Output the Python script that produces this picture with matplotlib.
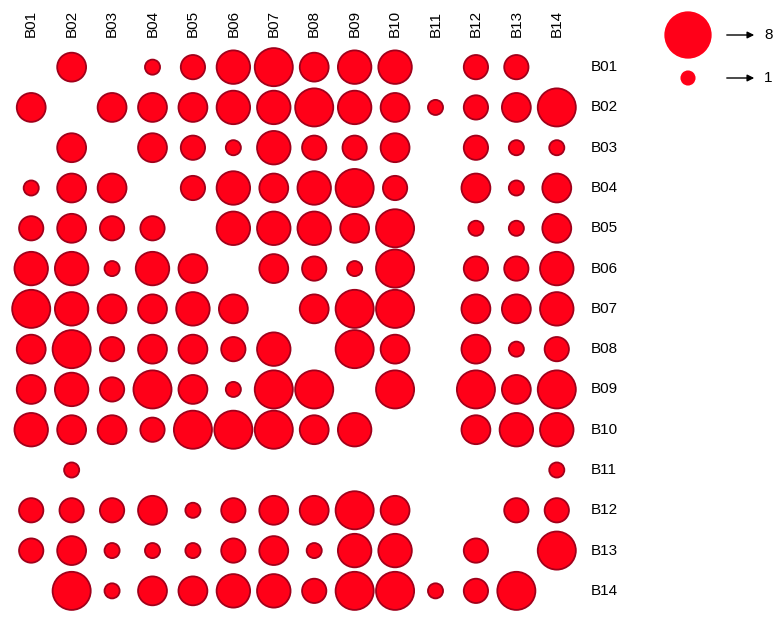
import matplotlib.pyplot as plt
import numpy as np

labels = ['B%02d' % i for i in range(1, 15)]
# rows B01..B14 (top to bottom), columns B01..B14; 0 = no circle
values = np.array([
    [0, 4, 0, 1, 3, 5, 6, 4, 5, 5, 0, 3, 3, 0],
    [4, 0, 4, 4, 4, 5, 5, 6, 5, 4, 1, 3, 4, 6],
    [0, 4, 0, 4, 3, 1, 5, 3, 3, 4, 0, 3, 1, 1],
    [1, 4, 4, 0, 3, 5, 4, 5, 6, 3, 0, 4, 1, 4],
    [3, 4, 3, 3, 0, 5, 5, 5, 4, 6, 0, 1, 1, 4],
    [5, 5, 1, 5, 4, 0, 4, 3, 1, 6, 0, 3, 3, 5],
    [6, 5, 4, 4, 5, 4, 0, 4, 6, 6, 0, 4, 4, 5],
    [4, 6, 3, 4, 4, 3, 5, 0, 6, 4, 0, 4, 1, 3],
    [4, 5, 3, 6, 4, 1, 6, 6, 0, 6, 0, 6, 4, 6],
    [5, 4, 4, 3, 6, 6, 6, 4, 5, 0, 0, 4, 5, 5],
    [0, 1, 0, 0, 0, 0, 0, 0, 0, 0, 0, 0, 0, 1],
    [3, 3, 3, 4, 1, 3, 4, 4, 6, 4, 0, 0, 3, 3],
    [3, 4, 1, 1, 1, 3, 4, 1, 5, 5, 0, 3, 0, 6],
    [0, 6, 1, 4, 4, 5, 5, 3, 6, 6, 1, 3, 6, 0],
])
legend_vals = [8, 1]

def size(v):
    d_px = 10.5 + 4.6 * np.asarray(v, dtype=float)
    return (d_px * 0.72) ** 2

W, H = 779, 625
fig = plt.figure(figsize=(W / 100, H / 100), dpi=100)
ax = fig.add_axes([11 / W, 1 - 611 / H, 566 / W, 564 / H])
ax.set_xlim(-0.5, 13.5)
ax.set_ylim(13.5, -0.5)
ax.axis('off')

rr, cc = np.nonzero(values)
ax.scatter(cc, rr, s=size(values[rr, cc]), c='#ff0018', edgecolors='#a0001a',
           linewidths=1.3, clip_on=False)

for i, lab in enumerate(labels):
    ax.text(i, -0.75, lab, rotation=90, ha='center', va='bottom', fontsize=11,
            family='Liberation Sans', clip_on=False)
    ax.text(13.85, i, lab, ha='left', va='center', fontsize=11,
            family='Liberation Sans', clip_on=False)

# size legend
lax = fig.add_axes([0, 0, 1, 1], facecolor='none')
lax.set_xlim(0, W)
lax.set_ylim(H, 0)
lax.axis('off')
for k, v in enumerate(legend_vals):
    y = 35 + 43 * k
    lax.scatter([688], [y], s=size(v), c='#ff0018', edgecolors='none')
    lax.annotate('', xy=(757, y), xytext=(724, y),
                 arrowprops=dict(arrowstyle='-|>', color='black', lw=1, mutation_scale=10))
    lax.text(764, y, str(v), ha='left', va='center', fontsize=11, family='Liberation Sans')

fig.savefig('out.png', dpi=100)
